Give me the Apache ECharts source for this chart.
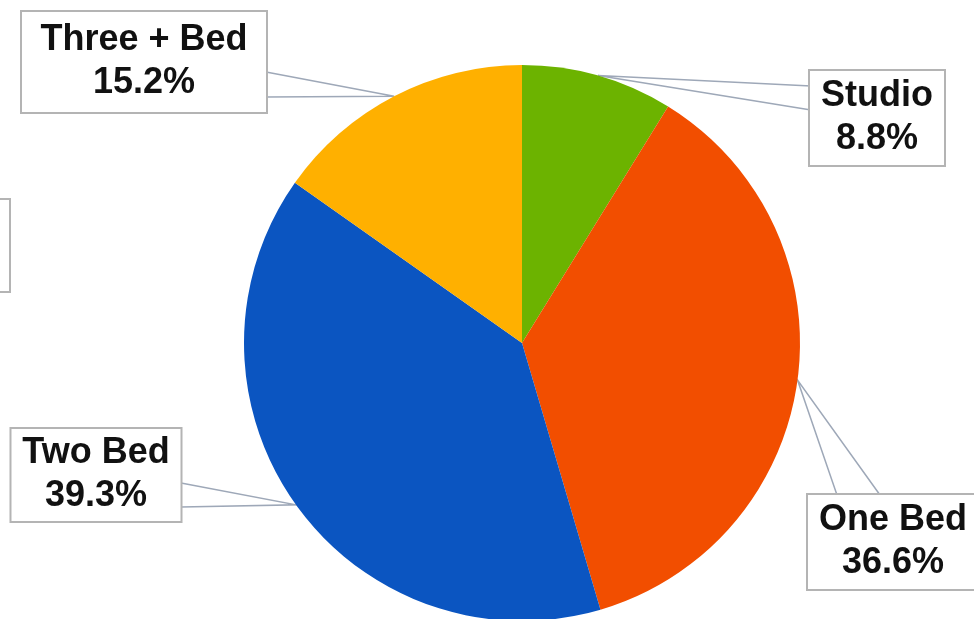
<!DOCTYPE html>
<html>
<head>
<meta charset="utf-8">
<style>
  html, body { margin: 0; padding: 0; background: #fff; }
  #chart { width: 974px; height: 619px; }
</style>
<script src="https://cdn.jsdelivr.net/npm/echarts@6/dist/echarts.min.js"></script>
</head>
<body>
<div id="chart"></div>
<script>
// unit mix shares (%)
var categories = ['Studio', 'One Bed', 'Two Bed', 'Three + Bed'];
var shares = [8.8, 36.6, 39.3, 15.2];
var colors = ['#6cb300', '#f24e00', '#0b55c1', '#ffb000'];

// where each callout box sits, and where its wedge leaves the box
var boxLayout = [
    {cx: 877, cy: 118, w: 114, pad: [4, 10], a: [-66, -32], b: [-66, -8]},
    {cx: 893, cy: 542, w: 150, pad: [4, 10], a: [-56, -47], b: [-13, -47]},
    {cx: 96, cy: 475, w: 151, pad: [3, 9], a: [85, 8], b: [85, 32]},
    {cx: 144, cy: 62, w: 210, pad: [7, 17], a: [122, 10], b: [122, 35]}
];

var myChart = echarts.init(document.getElementById('chart'));

var pieData = [];
for (var i = 0; i < categories.length; i++) {
    pieData.push({
        name: categories[i],
        value: shares[i],
        itemStyle: {color: colors[i]},
        label: {padding: boxLayout[i].pad, width: boxLayout[i].w}
    });
}

var option = {
    animation: false,
    backgroundColor: '#ffffff',
    graphic: [
        {
            type: 'rect',
            shape: {x: -60, y: 199, width: 70, height: 93},
            style: {fill: '#fff', stroke: '#b4b4b4', lineWidth: 2}
        }
    ],
    series: [
        {
            type: 'pie',
            center: [522, 343],
            radius: 278,
            startAngle: 90,
            clockwise: true,
            data: pieData,
            label: {
                show: true,
                position: 'outside',
                overflow: 'none',
                formatter: function (p) {
                    return p.name + '\n' + p.value.toFixed(1) + '%';
                },
                fontFamily: 'Liberation Sans, Arial, sans-serif',
                fontWeight: 'bold',
                fontSize: 36,
                lineHeight: 43,
                color: '#111',
                align: 'center',
                backgroundColor: '#fff',
                borderColor: '#b4b4b4',
                borderWidth: 2
            },
            labelLine: {
                show: true,
                length: 20,
                length2: 20,
                lineStyle: {color: '#9ea8b8', width: 1.5}
            },
            labelLayout: function (params) {
                var L = boxLayout[params.dataIndex];
                var p0 = params.labelLinePoints ? params.labelLinePoints[0] : [L.cx, L.cy];
                return {
                    x: L.cx,
                    y: L.cy,
                    align: 'center',
                    verticalAlign: 'middle',
                    labelLinePoints: [
                        [L.cx + L.a[0], L.cy + L.a[1]],
                        [p0[0], p0[1]],
                        [L.cx + L.b[0], L.cy + L.b[1]]
                    ]
                };
            }
        }
    ]
};
myChart.setOption(option);
</script>
</body>
</html>
